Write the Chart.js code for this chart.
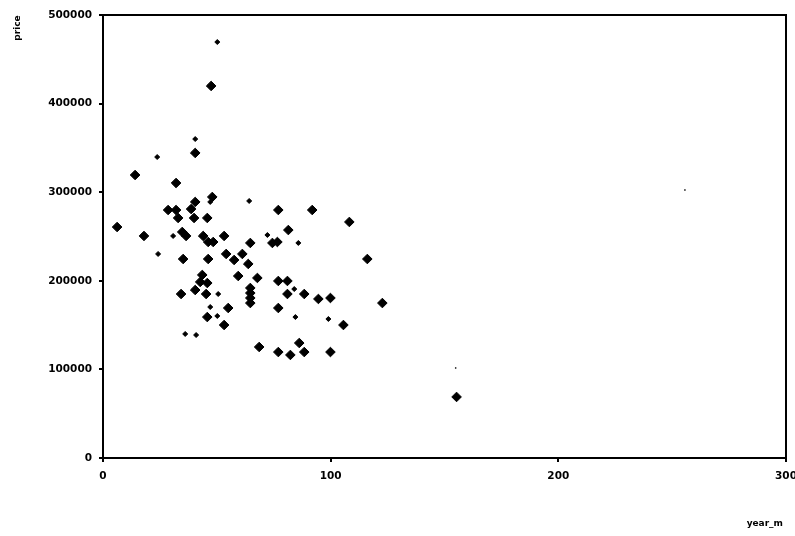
<!DOCTYPE html>
<html>
<head>
<meta charset="utf-8">
<script src="https://cdn.jsdelivr.net/npm/chart.js@4"></script>
<style>
html,body{margin:0;padding:0;background:#fff;}
#wrap{width:795px;height:536px;position:relative;}
</style>
</head>
<body>
<div id="wrap"><canvas id="c" width="795" height="536"></canvas></div>
<script>
// year_m / price pairs, large markers
const bigX = [14.1,32.1,48.0,40.5,47.5,40.5,28.6,32.1,38.7,33.0,40.0,45.8,77.0,91.9,108.2,81.4,6.2,18.0,34.8,36.5,44.0,53.2,46.2,48.4,64.7,74.4,76.6,35.2,46.2,54.1,57.6,61.2,63.8,116.1,43.6,42.7,45.8,59.4,67.8,77.0,81.0,34.3,40.5,45.3,64.7,64.7,64.7,64.7,81.0,88.4,94.6,99.9,122.7,77.0,55.0,45.8,53.2,105.6,68.6,77.0,82.3,86.2,88.4,99.9,155.3];
const bigY = [319400,310400,294600,344300,419900,289000,279900,279900,281000,270900,270900,270900,279900,279900,266400,257300,260700,250600,255100,250600,250600,250600,243800,243800,242700,242700,243800,224600,224600,230300,223500,230300,219000,224600,206600,198700,197500,205400,203200,199800,199800,185100,189600,185100,191900,186200,180600,174900,185100,185100,179500,180600,174900,169300,169300,159100,150100,150100,125300,119600,116300,129800,119600,119600,68900];
// small markers
const smallX = [50.2,40.5,23.8,47.1,64.2,30.8,24.2,36.1,40.9,50.6,84.0,84.5,99.0,72.2,85.8,47.1,50.2];
const smallY = [469500,360000,339700,289000,290100,250600,230300,140000,138800,185100,190700,159100,156900,251700,242700,170400,160300];
// tiny specks
const tinyX = [154.9,255.6];
const tinyY = [101600,302500];

const xTicks = [0,100,200,300];
const yTicks = [0,100000,200000,300000,400000,500000];
const xTitle = 'year_m';
const yTitle = 'price';

function pts(xs, ys){ return xs.map((x,i)=>({x:x, y:ys[i]})); }

const framePlugin = {
  id:'frame',
  afterDraw(chart){
    const {ctx, chartArea:a} = chart;
    ctx.save();
    ctx.strokeStyle = '#000';
    ctx.lineWidth = 2;
    ctx.strokeRect(a.left, a.top, a.right - a.left, a.bottom - a.top);
    ctx.fillStyle = '#000';
    ctx.font = 'bold 9px "DejaVu Sans"';
    ctx.textAlign = 'right';
    ctx.textBaseline = 'middle';
    ctx.fillText(xTitle, 783, 524);
    ctx.translate(18, 28);
    ctx.rotate(-Math.PI/2);
    ctx.textAlign = 'center';
    ctx.fillText(yTitle, 0, 0);
    ctx.restore();
  }
};

const tickFont = {family:'"DejaVu Sans"', size:10.5, weight:'bold'};

new Chart(document.getElementById('c'), {
  type:'scatter',
  data:{
    datasets:[
      {data:pts(bigX,bigY), pointStyle:'rectRot', pointRadius:4.8, backgroundColor:'#000', borderColor:'#000', borderWidth:1},
      {data:pts(smallX,smallY), pointStyle:'rectRot', pointRadius:2.5, backgroundColor:'#000', borderColor:'#000', borderWidth:1},
      {data:pts(tinyX,tinyY), pointStyle:'rect', pointRadius:1, backgroundColor:'#000', borderColor:'#000', borderWidth:0}
    ]
  },
  options:{
    responsive:false,
    animation:false,
    events:[],
    layout:{padding:{top:15, right:9, left:0, bottom:0}},
    plugins:{legend:{display:false}, tooltip:{enabled:false}},
    scales:{
      x:{
        type:'linear', min:0, max:300,
        afterFit(s){ s.height = 78; s.paddingRight = 0; s.paddingLeft = 0; },
        afterBuildTicks(s){ s.ticks = xTicks.map(v=>({value:v})); },
        grid:{drawOnChartArea:false, drawTicks:true, tickLength:4, color:'#000', lineWidth:2},
        border:{display:false},
        ticks:{color:'#000', font:tickFont, padding:8, maxRotation:0, callback:v=>String(v)}
      },
      y:{
        type:'linear', min:0, max:500000,
        afterFit(s){ s.width = 103; s.paddingTop = 0; s.paddingBottom = 0; },
        afterBuildTicks(s){ s.ticks = yTicks.map(v=>({value:v})); },
        grid:{drawOnChartArea:false, drawTicks:true, tickLength:4, color:'#000', lineWidth:2},
        border:{display:false},
        ticks:{color:'#000', font:tickFont, padding:7, callback:v=>String(v)}
      }
    }
  },
  plugins:[framePlugin]
});
</script>
</body>
</html>
